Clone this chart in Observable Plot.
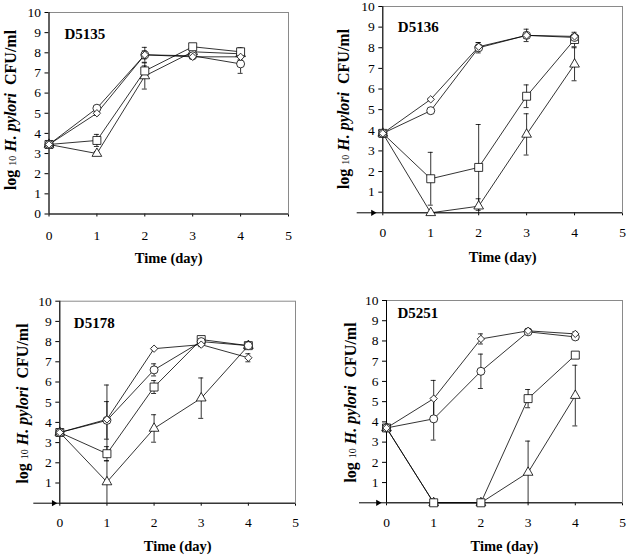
<!DOCTYPE html>
<html><head><meta charset="utf-8">
<script src="https://cdn.jsdelivr.net/npm/d3@7"></script>
<script src="https://cdn.jsdelivr.net/npm/@observablehq/plot@0.6"></script>
<style>
body{margin:0;background:#fff;}
#wrap{position:relative;width:630px;height:560px;background:#fff;overflow:hidden;}
.panel{position:absolute;width:315px;height:280px;}
</style></head><body><div id="wrap"></div>
<script>
// ---- data ----
const days = [0, 1, 2, 3, 4];
const xTicks = [0, 1, 2, 3, 4, 5];
const yTicks = [0, 1, 2, 3, 4, 5, 6, 7, 8, 9, 10];
const yTicksArrow = [1, 2, 3, 4, 5, 6, 7, 8, 9, 10];
const strains = ["D5135", "D5136", "D5178", "D5251"];
const seriesNames = ["triangle", "square", "circle", "diamond"];

const D5135_diamond = [3.45, 5.0, 7.9, 7.8, 7.8];
const D5135_diamondErr = [0, 0.1, 0.2, 0.1, 0.15];
const D5135_circle = [3.45, 5.25, 7.9, 7.85, 7.45];
const D5135_circleErr = [0, 0.1, 0.37, 0.1, 0.47];
const D5135_square = [3.45, 3.65, 7.1, 8.3, 8.05];
const D5135_squareErr = [0, 0.3, 0.25, 0.1, 0.2];
const D5135_triangle = [3.45, 3.0, 6.85, 8.05, 7.95];
const D5135_triangleErr = [0, 0.1, 0.65, 0.1, 0.15];

const D5136_diamond = [3.85, 5.5, 8.05, 8.6, 8.55];
const D5136_diamondErr = [0, 0.05, 0.2, 0.15, 0.1];
const D5136_circle = [3.85, 4.95, 8.0, 8.6, 8.5];
const D5136_circleErr = [0, 0.05, 0.25, 0.3, 0.15];
const D5136_square = [3.85, 1.65, 2.2, 5.65, 8.4];
const D5136_squareErr = [0, 1.28, 2.08, 0.55, 0.35];
const D5136_triangle = [3.85, 0, 0.32, 3.8, 7.2];
const D5136_triangleErr = [0, 0, 0.36, 1.0, 0.8];

const D5178_diamond = [3.5, 4.15, 7.65, 7.85, 7.2];
const D5178_diamondErr = [0, 1.7, 0.05, 0.1, 0.2];
const D5178_circle = [3.5, 4.1, 6.6, 8.0, 7.8];
const D5178_circleErr = [0, 0.93, 0.3, 0.1, 0.1];
const D5178_square = [3.5, 2.45, 5.75, 8.1, 7.8];
const D5178_squareErr = [0, 0.35, 0.32, 0.1, 0.05];
const D5178_triangle = [3.5, 1.05, 3.7, 5.2, 7.8];
const D5178_triangleErr = [0, 1.05, 0.68, 1.0, 0.1];

const D5251_diamond = [3.7, 5.15, 8.1, 8.5, 8.35];
const D5251_diamondErr = [0, 0.9, 0.25, 0.1, 0.1];
const D5251_circle = [3.7, 4.15, 6.5, 8.45, 8.2];
const D5251_circleErr = [0, 1.05, 0.85, 0.1, 0.1];
const D5251_square = [3.7, 0, 0, 5.15, 7.3];
const D5251_squareErr = [0, 0, 0, 0.45, 0];
const D5251_triangle = [3.7, 0, 0, 1.5, 5.3];
const D5251_triangleErr = [0, 0, 0, 1.55, 1.5];

const values = {
  D5135: {diamond: [D5135_diamond, D5135_diamondErr], circle: [D5135_circle, D5135_circleErr], square: [D5135_square, D5135_squareErr], triangle: [D5135_triangle, D5135_triangleErr]},
  D5136: {diamond: [D5136_diamond, D5136_diamondErr], circle: [D5136_circle, D5136_circleErr], square: [D5136_square, D5136_squareErr], triangle: [D5136_triangle, D5136_triangleErr]},
  D5178: {diamond: [D5178_diamond, D5178_diamondErr], circle: [D5178_circle, D5178_circleErr], square: [D5178_square, D5178_squareErr], triangle: [D5178_triangle, D5178_triangleErr]},
  D5251: {diamond: [D5251_diamond, D5251_diamondErr], circle: [D5251_circle, D5251_circleErr], square: [D5251_square, D5251_squareErr], triangle: [D5251_triangle, D5251_triangleErr]}
};

// ---- layout / style ----
const layout = {
  D5135: {left: 0, top: 0, ml: 48.5, mr: 27, mt: 12, mb: 66.5, tdx: 15.5, tdy: 22, ylx: 16, yly: 110, xdy: 49, pad: 13, arrow: null},
  D5136: {left: 315, top: 0, ml: 67.3, mr: 8, mt: 6, mb: 67.7, tdx: 15, tdy: 20.5, ylx: 34.3, yly: 109, xdy: 49, pad: 11.7, arrow: {ext: 25.6, dx: -9.8}},
  D5178: {left: 0, top: 280, ml: 59.3, mr: 20, mt: 20.7, mb: 57.3, tdx: 14, tdy: 22, ylx: 28, yly: 123.5, xdy: 48, pad: 11.3, arrow: {ext: 26, dx: -6.1}},
  D5251: {left: 315, top: 280, ml: 71, mr: 8, mt: 20, mb: 57.7, tdx: 11, tdy: 12.5, ylx: 41, yly: 122.5, xdy: 48, pad: 11.3, arrow: {ext: 27, dx: -8.5}}
};
const symbolStyle = {
  diamond: {symbol: "diamond2", r: 3.3},
  circle: {symbol: "circle", r: 4},
  square: {symbol: "square", r: 4.5},
  triangle: {symbol: "triangle", r: 3.6}
};
const FONT = "'Liberation Serif', 'Times New Roman', Times, serif";

const wrap = document.getElementById("wrap");

for (const strain of strains) {
  const cfg = layout[strain];
  const rows = [];
  for (const s of seriesNames) {
    const [vals, errs] = values[strain][s];
    days.forEach((d, i) => rows.push({series: s, day: d, value: vals[i], err: errs[i]}));
  }
  const errRows = rows.filter(d => d.err > 0);

  const marks = [
    Plot.frame({stroke: "#8a8a8a", strokeWidth: 1}),
    Plot.ruleX([0], {stroke: "black", strokeWidth: 1}),
    Plot.ruleY([0], {stroke: "black", strokeWidth: 1, insetLeft: cfg.arrow ? -cfg.arrow.ext : 0})
  ];
  if (cfg.arrow) {
    marks.push(Plot.dot([[0, 0]], {symbol: "triangle", rotate: 90, r: 2.3, fill: "black", stroke: "none", dx: cfg.arrow.dx}));
  }
  marks.push(
    Plot.line(rows, {x: "day", y: "value", z: "series", stroke: "black", strokeWidth: 0.8}),
    Plot.ruleX(errRows, {x: "day", y1: d => d.value - d.err, y2: d => d.value + d.err, stroke: "black", strokeWidth: 0.8}),
    Plot.ruleY(errRows, {x1: "day", x2: "day", y: d => d.value + d.err, insetLeft: -2.5, insetRight: -2.5, stroke: "black", strokeWidth: 0.8}),
    Plot.ruleY(errRows.filter(d => d.value - d.err > 0), {x1: "day", x2: "day", y: d => d.value - d.err, insetLeft: -2.5, insetRight: -2.5, stroke: "black", strokeWidth: 0.8})
  );
  for (const s of seriesNames) {
    marks.push(Plot.dot(rows.filter(d => d.series === s), {
      x: "day", y: "value", symbol: symbolStyle[s].symbol, r: symbolStyle[s].r,
      fill: "white", stroke: "black", strokeWidth: 0.8
    }));
  }
  marks.push(
    Plot.text([strain], {text: d => d, frameAnchor: "top-left", dx: cfg.tdx, dy: cfg.tdy, textAnchor: "start", lineAnchor: "middle", fontWeight: "bold", fontSize: 15}),
    Plot.text(["Time (day)"], {text: d => d, frameAnchor: "bottom", dy: cfg.xdy, lineAnchor: "bottom", fontWeight: "bold", fontSize: 14.5})
  );

  const chart = Plot.plot({
    width: 315, height: 280,
    marginLeft: cfg.ml, marginRight: cfg.mr, marginTop: cfg.mt, marginBottom: cfg.mb,
    style: {fontFamily: FONT, fontSize: "13.5px", color: "black", background: "white", overflow: "visible"},
    x: {domain: [0, 5], ticks: xTicks, tickFormat: d => d, tickSize: 3, tickPadding: cfg.pad, label: null},
    y: {domain: [0, 10], ticks: cfg.arrow ? yTicksArrow : yTicks, tickFormat: d => d, tickSize: 4, tickPadding: 4, label: null},
    marks
  });

  // composite y-axis label (mixed styles) as real text
  const svg = d3.select(chart);
  const t = svg.append("text")
    .attr("transform", `translate(${cfg.ylx},${cfg.yly}) rotate(-90)`)
    .attr("text-anchor", "middle")
    .attr("font-family", FONT)
    .attr("font-weight", "bold")
    .attr("font-size", 16)
    .attr("fill", "black")
    .style("white-space", "pre");
  t.append("tspan").text("log ");
  t.append("tspan").attr("font-size", 10).attr("font-weight", "normal").text("10");
  t.append("tspan").text(" ");
  t.append("tspan").attr("font-style", "italic").text("H. pylori");
  t.append("tspan").text("  CFU/ml");

  const div = document.createElement("div");
  div.className = "panel";
  div.style.left = cfg.left + "px";
  div.style.top = cfg.top + "px";
  div.appendChild(chart);
  wrap.appendChild(div);
}
</script>
</body></html>
